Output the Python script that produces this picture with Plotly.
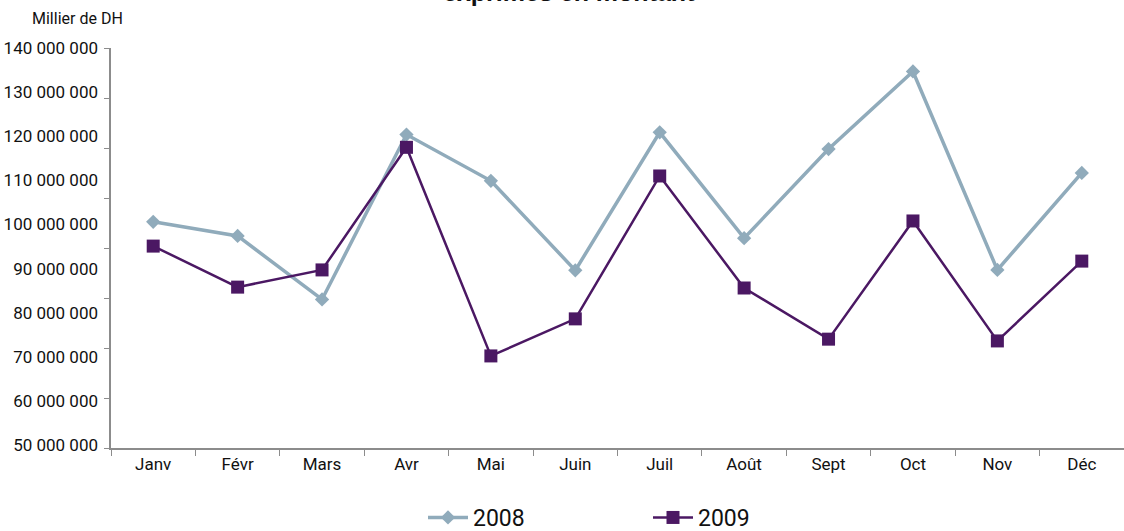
import plotly.graph_objects as go

months = ["Janv", "Févr", "Mars", "Avr", "Mai", "Juin", "Juil", "Août", "Sept", "Oct", "Nov", "Déc"]
v2008 = [100.6e6, 97.4e6, 83.0e6, 120.4e6, 109.9e6, 89.6e6, 120.9e6, 96.9e6, 117.1e6, 134.7e6, 89.7e6, 111.7e6]
v2009 = [95.1e6, 85.8e6, 89.7e6, 117.5e6, 70.2e6, 78.6e6, 111.0e6, 85.6e6, 74.0e6, 100.8e6, 73.6e6, 91.7e6]
ylabels_vals = [50e6, 60e6, 70e6, 80e6, 90e6, 100e6, 110e6, 120e6, 130e6, 140e6]
ylabels_text = ["50 000 000", "60 000 000", "70 000 000", "80 000 000", "90 000 000",
                "100 000 000", "110 000 000", "120 000 000", "130 000 000", "140 000 000"]

FONT = "Roboto, sans-serif"
yr = [49.32e6, 140.02e6]
tick_marks = [yr[0] + k * (yr[1] - yr[0]) / 8 for k in range(9)]

fig = go.Figure()
fig.add_trace(go.Scatter(x=months, y=v2008, name="2008", mode="lines+markers",
                         line=dict(color="#90ABBB", width=3.5),
                         marker=dict(symbol="diamond", size=11, color="#90ABBB")))
fig.add_trace(go.Scatter(x=months, y=v2009, name="2009", mode="lines+markers",
                         line=dict(color="#4B1863", width=2.5),
                         marker=dict(symbol="square", size=13, color="#4B1863")))
# invisible trace to activate tick-mark axis
fig.add_trace(go.Scatter(x=[months[0]], y=[yr[0]], yaxis="y2", mode="markers",
                         marker=dict(opacity=0), showlegend=False, hoverinfo="skip"))

fig.update_layout(
    width=1124, height=531,
    margin=dict(l=111, r=0, t=48, b=83, autoexpand=False),
    paper_bgcolor="white", plot_bgcolor="white",
    font=dict(family=FONT, size=17, color="#111111"),
    showlegend=True,
    legend=dict(orientation="h", x=0.308, xanchor="left", y=-0.12, yanchor="top",
                font=dict(size=23, family=FONT), itemwidth=40,
                entrywidth=170, entrywidthmode="pixels",
                bgcolor="rgba(0,0,0,0)"),
    xaxis=dict(type="category", range=[-0.5, 11.5], showline=True, linecolor="#8C8C8C",
               linewidth=1.5, ticks="outside", tickson="boundaries", ticklen=6,
               tickcolor="#8C8C8C", showgrid=False, zeroline=False, automargin=False,
               tickfont=dict(size=17, family=FONT)),
    yaxis=dict(range=yr, tickvals=ylabels_vals, ticktext=ylabels_text, ticks="",
               showline=False, showgrid=False, zeroline=False, ticklabelstandoff=12,
               automargin=False, tickfont=dict(size=17, family=FONT)),
    yaxis2=dict(range=yr, overlaying="y", side="left", tickvals=tick_marks,
                showticklabels=False, ticks="outside", ticklen=5, tickcolor="#8C8C8C",
                showline=True, linecolor="#8C8C8C", linewidth=1.5, automargin=False,
                showgrid=False, zeroline=False),
    annotations=[
        dict(text="Millier de DH", xref="paper", yref="paper", x=-0.08, y=1.075,
             xanchor="left", yanchor="middle", showarrow=False,
             font=dict(size=16, family=FONT)),
        dict(text="<b>exprimés en montant</b>", xref="paper", yref="paper",
             x=0.452, y=1.1, xanchor="center", yanchor="bottom", showarrow=False,
             font=dict(size=25, family="Liberation Sans, sans-serif")),
    ],
)

fig.write_html("out.html", config={"displayModeBar": False},
               post_script="document.body.style.margin='0';document.body.style.overflow='hidden';")
